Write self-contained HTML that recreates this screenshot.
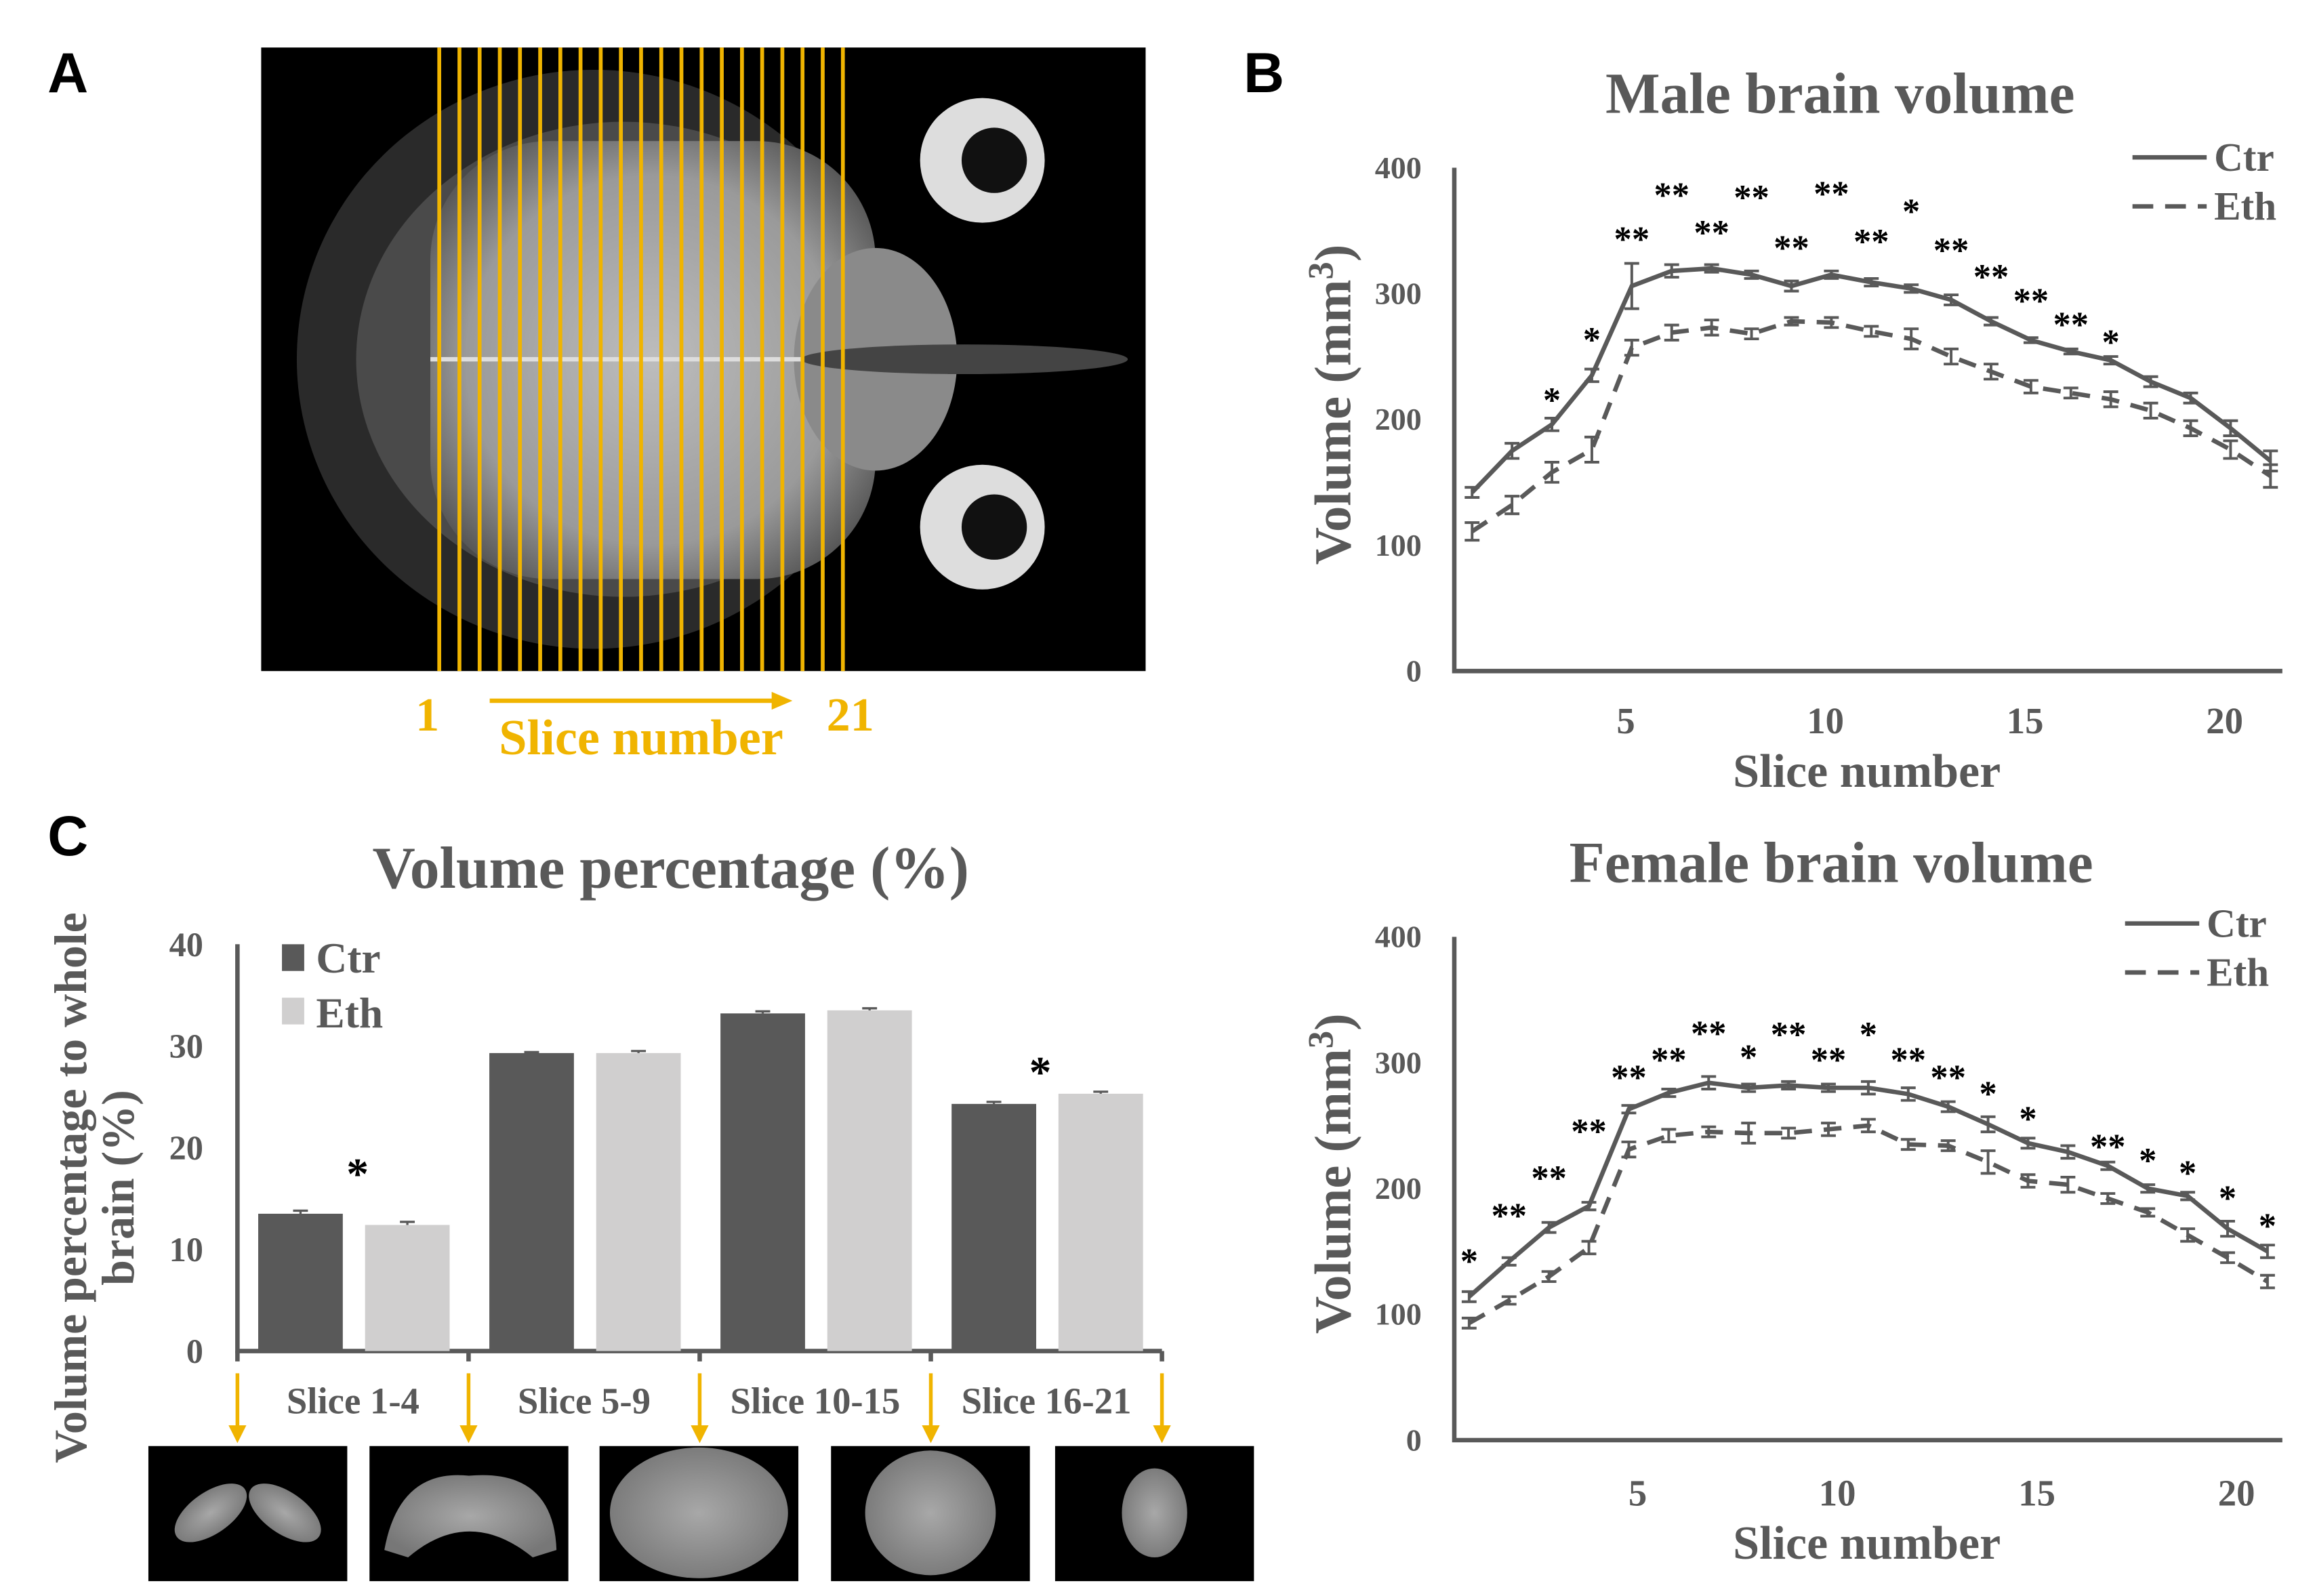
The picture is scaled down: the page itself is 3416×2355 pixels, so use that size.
<!DOCTYPE html>
<html><head><meta charset="utf-8"><style>
html,body{margin:0;padding:0;background:#fff}
svg{display:block}
text{font-family:"Liberation Serif",serif;font-weight:bold;fill:#595959}
.lbl{font-family:"Liberation Sans",sans-serif;fill:#000;font-size:38px}
</style></head><body>
<svg id="fig" width="3416" height="2355" viewBox="0 0 1560 1075" preserveAspectRatio="none" xmlns="http://www.w3.org/2000/svg">
<defs>
<radialGradient id="brainG" cx="50%" cy="50%" r="60%"><stop offset="0" stop-color="#bdbdbd"/><stop offset="0.7" stop-color="#9a9a9a"/><stop offset="1" stop-color="#555"/></radialGradient>
<radialGradient id="sliceG" cx="50%" cy="50%" r="55%"><stop offset="0" stop-color="#a8a8a8"/><stop offset="1" stop-color="#777"/></radialGradient>
</defs>
<text class="lbl" x="32" y="62">A</text>
<text class="lbl" x="838" y="62">B</text>
<text class="lbl" x="32" y="576">C</text>
<!-- Panel A -->
<g>
<rect x="176" y="32" width="596" height="420" fill="#000"/>
<ellipse cx="400" cy="242" rx="200" ry="195" fill="#2a2a2a"/>
<ellipse cx="420" cy="242" rx="180" ry="160" fill="#4a4a4a"/>
<rect x="290" y="95" width="300" height="295" rx="80" fill="url(#brainG)"/>
<ellipse cx="590" cy="242" rx="55" ry="75" fill="#8a8a8a"/>
<line x1="290" y1="242" x2="630" y2="242" stroke="#ddd" stroke-width="3"/>
<ellipse cx="650" cy="242" rx="110" ry="10" fill="#444"/>
<circle cx="662" cy="108" r="42" fill="#ddd"/><circle cx="670" cy="108" r="22" fill="#111"/>
<circle cx="662" cy="355" r="42" fill="#ddd"/><circle cx="670" cy="355" r="22" fill="#111"/>
</g>
<g id="yellowLines"></g>
<text x="288" y="492" font-size="32" text-anchor="middle" style="fill:#f0b400">1</text>
<text x="573" y="492" font-size="32" text-anchor="middle" style="fill:#f0b400">21</text>
<line x1="330" y1="472" x2="522" y2="472" stroke="#f0b400" stroke-width="3"/>
<polygon points="534,472 520,466 520,478" fill="#f0b400"/>
<text x="432" y="508" font-size="34" text-anchor="middle" style="fill:#f0b400">Slice number</text>
<g id="male"></g>
<g id="female"></g>
<g id="bars"></g>
</svg>
<script>
// ---- data ----
const slices = [1,2,3,4,5,6,7,8,9,10,11,12,13,14,15,16,17,18,19,20,21];
const maleCtr = [142,175,196,235,306,318,320,315,306,315,309,304,295,278,263,254,247,230,217,193,167];
const maleCtrErr = [4,6,5,5,18,5,3,3,4,3,3,3,4,3,2,2,3,4,4,6,8];
const maleEth = [111,132,158,176,257,269,273,268,278,277,270,264,250,238,226,221,216,207,193,176,155];
const maleEthErr = [7,7,8,10,6,6,6,4,3,4,4,8,6,6,5,4,6,6,6,7,9];
const maleStarSlices = [3,4,5,6,7,8,9,10,11,12,13,14,15,16,17];
const maleStarText = ["*","*","**","**","**","**","**","**","**","*","**","**","**","**","*"];
const maleStarY = [220,268,348,383,353,381,341,384,346,370,339,318,299,280,266];
const femCtr = [114,142,169,186,263,276,284,280,282,280,280,275,265,251,236,229,218,200,194,168,150];
const femCtrErr = [4,3,4,3,3,3,5,3,3,3,5,5,4,6,4,5,3,3,3,6,5];
const femEth = [93,111,130,153,231,242,245,244,244,247,250,235,234,221,206,203,192,181,163,145,126];
const femEthErr = [4,3,4,5,6,5,4,8,4,5,5,4,4,9,5,6,4,3,5,4,5];
const femStarSlices = [1,2,3,4,5,6,7,8,9,10,11,12,13,14,15,17,18,19,20,21];
const femStarText = ["*","**","**","**","**","**","**","*","**","**","*","**","**","*","*","**","*","*","*","*"];
const femStarY = [147,183,213,250,293,307,328,309,327,307,327,307,293,280,260,238,227,217,197,175];
const yTicks = [0,100,200,300,400];
const xTicks = [5,10,15,20];
const barGroups = ["Slice 1-4","Slice 5-9","Slice 10-15","Slice 16-21"];
const barCtr = [13.5,29.3,33.2,24.3];
const barEth = [12.4,29.3,33.5,25.3];
const barCtrErr = [0.3,0.1,0.2,0.2];
const barEthErr = [0.3,0.2,0.2,0.2];
const barTicks = [0,10,20,30,40];

const NS="http://www.w3.org/2000/svg";
function mk(parent,tag,attrs,txt){const e=document.createElementNS(NS,tag);for(const k in attrs)e.setAttribute(k,attrs[k]);if(txt!==undefined)e.textContent=txt;parent.appendChild(e);return e;}
const G="#595959";

// yellow lines
const yl=document.getElementById('yellowLines');
for(let i=0;i<21;i++){const x=296+i*(272/20);
 const l=mk(yl,'line',{x1:x,y1:32,x2:x,y2:452,stroke:'#f0b400','stroke-width':2.6});
 
 }

function lineChart(g,cfg){
 const X=s=>cfg.x1+(s-1)*cfg.dx;
 const Y=v=>cfg.y0-(v/400)*(cfg.y0-cfg.y400);
 let t=mk(g,'text',{x:cfg.tx,y:cfg.ty,'font-size':39,'text-anchor':'middle'},cfg.title);
 
 
 let a=mk(g,'path',{d:`M980,${cfg.y400} V${cfg.y0} H1538`,stroke:G,'stroke-width':3,fill:'none'});
 
 
 yTicks.forEach(v=>{const e=mk(g,'text',{x:958,y:Y(v)+7,'font-size':21,'text-anchor':'end'},v);
  
  });
 xTicks.forEach(v=>{const e=mk(g,'text',{x:X(v)+cfg.lo,y:cfg.xly,'font-size':25,'text-anchor':'middle'},v);
  
  });
 let xt=mk(g,'text',{x:1258,y:cfg.xly+36,'font-size':32,'text-anchor':'middle'},'Slice number');
 
 
 const yc=(cfg.y0+cfg.y400)/2-10;
 let yt=mk(g,'text',{x:0,y:0,'font-size':35,'text-anchor':'middle',transform:`translate(910,${yc}) rotate(-90)`});
 
 
 yt.appendChild(document.createTextNode('Volume (mm'));
 mk(yt,'tspan',{dy:-12,'font-size':24},'3');
 mk(yt,'tspan',{dy:12},')');
 function series(vals,errs,dash,name){
  const p=mk(g,'polyline',{points:vals.map((v,i)=>X(slices[i])+','+Y(v)).join(' '),fill:'none',stroke:G,'stroke-width':3,'stroke-dasharray':dash||'none'});
  
  
  vals.forEach((v,i)=>{const x=X(slices[i]),y1=Y(v-errs[i]),y2=Y(v+errs[i]);
   const e=mk(g,'path',{d:`M${x},${y1}V${y2}M${x-5},${y1}H${x+5}M${x-5},${y2}H${x+5}`,stroke:G,'stroke-width':1.8,fill:'none'});
   
   });
 }
 series(cfg.ctr,cfg.ctrE,null,'ctr');
 series(cfg.eth,cfg.ethE,'12,8','eth');
 cfg.ss.forEach((s,i)=>{const e=mk(g,'text',{x:X(s),y:Y(cfg.sy[i])+12,'font-size':24,'text-anchor':'middle',style:'fill:#000'},cfg.st[i]);
  
  });
 const ly=cfg.legY;
 let l1=mk(g,'line',{x1:cfg.legX,y1:ly,x2:cfg.legX+50,y2:ly,stroke:G,'stroke-width':3});
 
 
 let t1=mk(g,'text',{x:cfg.legX+55,y:ly+9,'font-size':27},'Ctr');
 
 
 let l2=mk(g,'line',{x1:cfg.legX,y1:ly+33,x2:cfg.legX+50,y2:ly+33,stroke:G,'stroke-width':3,'stroke-dasharray':'14,8'});
 
 
 let t2=mk(g,'text',{x:cfg.legX+55,y:ly+42,'font-size':27},'Eth');
 
 
}
lineChart(document.getElementById('male'),{title:'Male brain volume',tx:1240,ty:76,y0:452,y400:113,x1:992,dx:26.9,lo:-4,xly:494,
 ctr:maleCtr,ctrE:maleCtrErr,eth:maleEth,ethE:maleEthErr,ss:maleStarSlices,st:maleStarText,sy:maleStarY,legX:1437,legY:106});
lineChart(document.getElementById('female'),{title:'Female brain volume',tx:1234,ty:594,y0:970,y400:631,x1:990,dx:26.9,lo:6,xly:1014,
 ctr:femCtr,ctrE:femCtrErr,eth:femEth,ethE:femEthErr,ss:femStarSlices,st:femStarText,sy:femStarY,legX:1432,legY:622});

// bar chart
(function(){
 const g=document.getElementById('bars');
 const Y=v=>910-v/40*274;
 let t=mk(g,'text',{x:452,y:598,'font-size':40,'text-anchor':'middle'},'Volume percentage (%)');
 
 
 let a=mk(g,'path',{d:'M160,636 V910 H783',stroke:G,'stroke-width':3,fill:'none'});
 
 
 barTicks.forEach(v=>{const e=mk(g,'text',{x:137,y:Y(v)+8,'font-size':23,'text-anchor':'end'},v);
  
  });
 const gw=155.75;
 for(let i=0;i<=4;i++){const x=160+i*gw;
  const tk=mk(g,'line',{x1:x,y1:910,x2:x,y2:917,stroke:G,'stroke-width':3});
  
  
  const ar=mk(g,'path',{d:`M${x},925V962`,stroke:'#f0b400','stroke-width':2.5});
  
  
  mk(g,'polygon',{points:`${x-6},960 ${x+6},960 ${x},972`,fill:'#f0b400'});
 }
 barGroups.forEach((n,i)=>{
  const gx=160+i*gw;
  [[barCtr[i],barCtrErr[i],'#595959',14,'ctr'],[barEth[i],barEthErr[i],'#d0cfcf',86,'eth']].forEach(([v,e,c,off,nm])=>{
   const r=mk(g,'rect',{x:gx+off,y:Y(v),width:57,height:910-Y(v),fill:c});
   
   
   const cx=gx+off+28.5;
   mk(g,'path',{d:`M${cx},${Y(v)}V${Y(v+e)}M${cx-5},${Y(v+e)}H${cx+5}`,stroke:G,'stroke-width':1.5});
  });
  const lb=mk(g,'text',{x:gx+gw/2,y:952,'font-size':25,'text-anchor':'middle'},n);
  
  
 });
 [[241,18],[701,28]].forEach(([x,v])=>{const s=mk(g,'text',{x:x,y:Y(v)+14,'font-size':30,'text-anchor':'middle',style:'fill:#000'},'*');
  
  });
 const r1=mk(g,'rect',{x:190,y:636,width:15,height:18,fill:'#595959'});
 
 
 const r2=mk(g,'rect',{x:190,y:672,width:15,height:18,fill:'#d0cfcf'});
 
 
 const lt1=mk(g,'text',{x:213,y:655,'font-size':29},'Ctr');
 
 
 const lt2=mk(g,'text',{x:213,y:692,'font-size':29},'Eth');
 
 
 const y1=mk(g,'text',{x:0,y:0,'font-size':31,'text-anchor':'middle',transform:'translate(58,800) rotate(-90)'},'Volume percentage to whole');
 
 
 const y2=mk(g,'text',{x:0,y:0,'font-size':31,'text-anchor':'middle',transform:'translate(90,800) rotate(-90)'},'brain (%)');
 
 
 // thumbnails
 const th=[100,249,404,560,711];
 th.forEach((x,i)=>{
  const r=mk(g,'rect',{x:x,y:974,width:134,height:91,fill:'#000'});
  
  
  const cx=x+67,cy=1019;
  if(i==0){mk(g,'ellipse',{cx:cx-25,cy:cy,rx:28,ry:14,fill:'url(#sliceG)',transform:`rotate(-35 ${cx-25} ${cy})`});
   mk(g,'ellipse',{cx:cx+25,cy:cy,rx:28,ry:14,fill:'url(#sliceG)',transform:`rotate(35 ${cx+25} ${cy})`});}
  else if(i==1){mk(g,'path',{d:`M${x+10},${cy+25} Q${x+20},${cy-30} ${cx},${cy-25} Q${x+124},${cy-30} ${x+126},${cy+25} L${x+110},${cy+30} Q${cx},${cy-5} ${x+26},${cy+30}Z`,fill:'url(#sliceG)'});}
  else if(i==2){mk(g,'ellipse',{cx:cx,cy:cy,rx:60,ry:44,fill:'url(#sliceG)'});}
  else if(i==3){mk(g,'ellipse',{cx:cx,cy:cy,rx:44,ry:42,fill:'url(#sliceG)'});}
  else {mk(g,'ellipse',{cx:cx,cy:cy,rx:22,ry:30,fill:'url(#sliceG)'});}
 });
})();
</script>
</body></html>
